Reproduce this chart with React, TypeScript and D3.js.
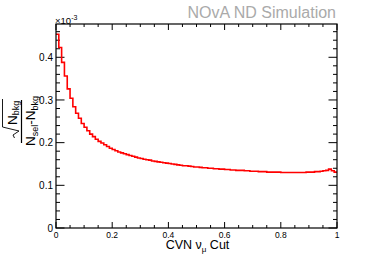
import React from 'react'
import * as d3 from 'd3'

// CVN numu cut scan, 100 bins from 0 to 1 (values in units of 1e-3)
const binWidth = 0.01
const binValues = [
  0.454, 0.423, 0.388, 0.356, 0.326, 0.304, 0.284, 0.269, 0.257, 0.245,
  0.236, 0.228, 0.220, 0.214, 0.208, 0.203, 0.199, 0.195, 0.191, 0.187,
  0.184, 0.181, 0.178, 0.176, 0.174, 0.172, 0.170, 0.168, 0.166, 0.164,
  0.163, 0.161, 0.160, 0.159, 0.157, 0.156, 0.155, 0.154, 0.153, 0.152,
  0.151, 0.150, 0.149, 0.148, 0.147, 0.146, 0.146, 0.145, 0.144, 0.143,
  0.143, 0.142, 0.141, 0.141, 0.140, 0.140, 0.139, 0.139, 0.138, 0.138,
  0.137, 0.137, 0.136, 0.136, 0.135, 0.135, 0.135, 0.134, 0.134, 0.133,
  0.133, 0.133, 0.132, 0.132, 0.132, 0.131, 0.131, 0.131, 0.131, 0.131,
  0.130, 0.130, 0.130, 0.130, 0.130, 0.130, 0.130, 0.130, 0.130, 0.131,
  0.131, 0.131, 0.132, 0.132, 0.133, 0.134, 0.135, 0.138, 0.134, 0.131,
]
const xMajorTicks = [0, 0.2, 0.4, 0.6, 0.8, 1]
const xTickLabels = ['0', '0.2', '0.4', '0.6', '0.8', '1']
const yMajorTicks = [0, 0.1, 0.2, 0.3, 0.4]
const yTickLabels = ['0', '0.1', '0.2', '0.3', '0.4']

const font = '"Liberation Sans", Arial, Helvetica, sans-serif'

const frame = { left: 56, right: 337, top: 24, bottom: 228 }

export default function App() {
  const x = d3.scaleLinear().domain([0, 1]).range([frame.left, frame.right])
  const y = d3.scaleLinear().domain([0, 0.478]).range([frame.bottom, frame.top])

  const pts: [number, number][] = binValues.map((v, i) => [i * binWidth, v])
  pts.push([binValues.length * binWidth, binValues[binValues.length - 1]])
  const line = d3.line<[number, number]>()
    .x((d) => x(d[0]))
    .y((d) => y(d[1]))
    .curve(d3.curveStepAfter)

  const xMinor = d3.range(0, 1.0001, 0.05).filter((v) => Math.abs(v / 0.2 - Math.round(v / 0.2)) > 1e-6)
  const yMinor = d3.range(0, 0.478, 0.02).filter((v) => Math.abs(v / 0.1 - Math.round(v / 0.1)) > 1e-6)

  return (
    <svg width={374} height={254} style={{ position: 'absolute', left: 0, top: 0 }} fontFamily={font}>
      <rect width={374} height={254} fill="#fff" />

      {/* ticks */}
      <g stroke="#000" strokeWidth={1}>
        {xMajorTicks.map((t) => (
          <g key={'xM' + t}>
            <line x1={x(t)} x2={x(t)} y1={frame.bottom} y2={frame.bottom - 6} />
            <line x1={x(t)} x2={x(t)} y1={frame.top} y2={frame.top + 6} />
          </g>
        ))}
        {xMinor.map((t) => (
          <g key={'xm' + t}>
            <line x1={x(t)} x2={x(t)} y1={frame.bottom} y2={frame.bottom - 3} />
            <line x1={x(t)} x2={x(t)} y1={frame.top} y2={frame.top + 3} />
          </g>
        ))}
        {yMajorTicks.map((t) => (
          <g key={'yM' + t}>
            <line x1={frame.left} x2={frame.left + 8.5} y1={y(t)} y2={y(t)} />
            <line x1={frame.right} x2={frame.right - 8.5} y1={y(t)} y2={y(t)} />
          </g>
        ))}
        {yMinor.map((t) => (
          <g key={'ym' + t}>
            <line x1={frame.left} x2={frame.left + 4} y1={y(t)} y2={y(t)} />
            <line x1={frame.right} x2={frame.right - 4} y1={y(t)} y2={y(t)} />
          </g>
        ))}
      </g>

      <path d={line(pts) ?? ''} fill="none" stroke="#ff0000" strokeWidth={1.6} />

      <rect x={frame.left} y={frame.top} width={frame.right - frame.left} height={frame.bottom - frame.top}
        fill="none" stroke="#000" strokeWidth={1.2} />

      {/* tick labels */}
      <g fontSize={8.5} fill="#000" textAnchor="middle">
        {xMajorTicks.map((t, i) => (
          <text key={'xl' + t} x={x(t)} y={frame.bottom + 9.5}>{xTickLabels[i]}</text>
        ))}
      </g>
      <g fontSize={10} fill="#000" textAnchor="end">
        {yMajorTicks.map((t, i) => (
          <text key={'yl' + t} x={frame.left - 3} y={y(t) + 3.6}>{yTickLabels[i]}</text>
        ))}
      </g>

      <text x={frame.left - 1} y={frame.top - 0.5} fontSize={9.5} fill="#000">
        ×10<tspan dy={-4} fontSize={7}>-3</tspan>
      </text>

      <text x={336} y={18} fontSize={16} fill="#aaaaaa" textAnchor="end">NOvA ND Simulation</text>

      <text x={197.5} y={249} fontSize={12.5} fill="#000" textAnchor="middle">
        CVN ν<tspan dy={3} fontSize={8}>μ</tspan><tspan dy={-3}> Cut</tspan>
      </text>

      {/* y axis title: sqrt(N_bkg) / (N_sel - N_bkg) */}
      <g transform="translate(21.5,121) rotate(-90)" fill="#000">
        <line x1={-22} x2={21} y1={0} y2={0} stroke="#000" strokeWidth={1.2} />
        <path d="M-17,-7 L-14,-8.5 L-10,-2.5 L-6,-19 L22,-19" fill="none" stroke="#000" strokeWidth={0.9} />
        <text x={-4} y={-5} fontSize={13.5}>
          N<tspan dy={2.5} fontSize={9}>bkg</tspan>
        </text>
        <text x={0} y={13.5} fontSize={13.5} textAnchor="middle">
          N<tspan dy={2.5} fontSize={9}>sel</tspan><tspan dy={-2.5}>-N</tspan><tspan dy={2.5} fontSize={9}>bkg</tspan>
        </text>
      </g>
    </svg>
  )
}
